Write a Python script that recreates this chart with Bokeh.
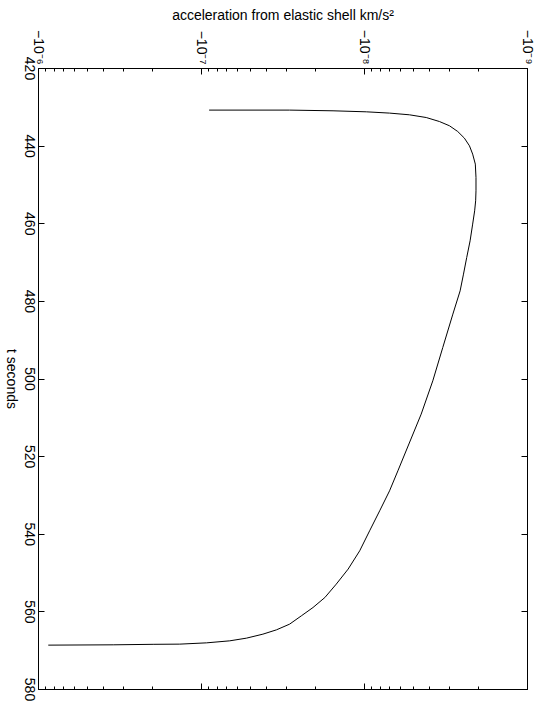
import math
from bokeh.plotting import figure
from bokeh.models import Range1d, LogAxis, LinearAxis, FixedTicker, CustomJSTickFormatter
from bokeh.embed import file_html
from bokeh.resources import INLINE

# data
t_seconds = [430.72, 430.72, 430.90, 431.16, 431.49, 431.93, 432.63, 433.66, 434.76, 436.23,
             437.93, 439.92, 442.06, 444.63, 448.09, 451.51, 454.09, 456.67, 460.09, 464.40,
             468.70, 472.98, 477.28, 483.28, 491.89, 500.47, 509.05, 523.66,
             528.81, 533.96, 539.11, 544.26, 548.98, 552.85, 556.30, 558.88, 561.02, 563.16,
             564.63, 565.74, 566.77, 567.46, 567.98, 568.31, 568.36, 568.49, 568.57]
accel = [-8.98e-8, -2.88e-8, -1.56e-8, -9.75e-9, -7.02e-9, -5.30e-9, -4.18e-9, -3.47e-9,
         -3.01e-9, -2.68e-9, -2.44e-9, -2.27e-9, -2.17e-9, -2.09e-9, -2.07e-9, -2.07e-9,
         -2.08e-9, -2.11e-9, -2.17e-9, -2.25e-9, -2.36e-9, -2.47e-9, -2.59e-9, -2.87e-9,
         -3.31e-9, -3.81e-9, -4.49e-9, -6.24e-9, -7.02e-9, -8.07e-9,
         -9.30e-9, -1.07e-8, -1.26e-8, -1.49e-8, -1.75e-8, -2.07e-8, -2.44e-8, -2.88e-8,
         -3.47e-8, -4.20e-8, -5.30e-8, -6.71e-8, -9.31e-8, -1.36e-7, -1.98e-7, -3.48e-7,
         -8.71e-7]

accel_decades = [-9, -8, -7, -6]
t_ticks = [420, 440, 460, 480, 500, 520, 540, 560, 580]

mag = [-a for a in accel]
major_y = [10.0 ** e for e in accel_decades]
minor_y = [k * 10.0 ** e for e in accel_decades[:-1] for k in range(2, 10)]

FONT = "Liberation Sans"

# The original figure is a landscape plot printed rotated by 90 degrees clockwise:
# t runs along the (unrotated) x axis, the acceleration along a log y axis.
# A square canvas keeps its bounding box unchanged by the rotation; the unused
# strip below the plot ends up to the left of the page, out of view.
SIDE = 701
SHOWN = 538
p = figure(frame_width=621, frame_height=489,
           min_border_left=68, min_border_right=SIDE - 68 - 621,
           min_border_top=10, min_border_bottom=SIDE - 10 - 489,
           y_axis_type="log",
           x_range=Range1d(420, 580), y_range=Range1d(1e-6, 1e-9),
           output_backend="svg", toolbar_location=None)
p.styles = {"transform": "translate(%dpx, 0px) rotate(90deg)" % SHOWN,
            "transform-origin": "0 0"}
p.background_fill_color = "white"
p.border_fill_color = "white"
p.outline_line_color = "black"
p.outline_line_width = 1
p.grid.visible = False

p.line(t_seconds, mag, line_color="black", line_width=1.0)

fmt = CustomJSTickFormatter(code="""
const e = Math.round(Math.log10(tick));
const sup = {"-6": "\u207b\u2076", "-7": "\u207b\u2077", "-8": "\u207b\u2078", "-9": "\u207b\u2079"};
return "\u221210" + sup[String(e)];
""")

ya = p.yaxis[0]
ya.ticker = FixedTicker(ticks=major_y, minor_ticks=minor_y)
ya.formatter = fmt
ya.major_label_text_font = FONT
ya.major_label_text_font_size = "14px"
ya.major_label_text_color = "black"
ya.major_label_standoff = 4
ya.major_tick_in = 6
ya.major_tick_out = 0
ya.minor_tick_in = 3
ya.minor_tick_out = 0
ya.axis_line_color = "black"
ya.major_tick_line_color = "black"
ya.minor_tick_line_color = "black"
ya.axis_label = "acceleration from elastic shell km/s\u00b2"
ya.axis_label_text_font = FONT
ya.axis_label_text_font_size = "14px"
ya.axis_label_text_font_style = "normal"
ya.axis_label_text_color = "black"
ya.axis_label_standoff = 4

xa = p.xaxis[0]
xa.ticker = FixedTicker(ticks=t_ticks, minor_ticks=[])
xa.major_label_text_font = FONT
xa.major_label_text_font_size = "14px"
xa.major_label_text_color = "black"
xa.major_label_standoff = 4
xa.major_tick_in = 6
xa.major_tick_out = 0
xa.minor_tick_line_color = None
xa.axis_line_color = "black"
xa.major_tick_line_color = "black"
xa.axis_label = "t seconds"
xa.axis_label_text_font = FONT
xa.axis_label_text_font_size = "14px"
xa.axis_label_text_font_style = "normal"
xa.axis_label_text_color = "black"
xa.axis_label_standoff = 2

blank = CustomJSTickFormatter(code="return '';")
yr = LogAxis(ticker=FixedTicker(ticks=major_y, minor_ticks=minor_y), formatter=blank,
             major_tick_in=6, major_tick_out=0, minor_tick_in=3, minor_tick_out=0,
             major_label_standoff=0, major_label_text_font_size="1px",
             axis_line_color="black", major_tick_line_color="black", minor_tick_line_color="black")
p.add_layout(yr, "right")
xt = LinearAxis(ticker=FixedTicker(ticks=t_ticks, minor_ticks=[]), formatter=blank,
                major_tick_in=6, major_tick_out=0, minor_tick_line_color=None,
                major_label_standoff=0, major_label_text_font_size="1px",
                axis_line_color="black", major_tick_line_color="black")
p.add_layout(xt, "above")

open("out.html", "w").write(file_html(p, INLINE))
